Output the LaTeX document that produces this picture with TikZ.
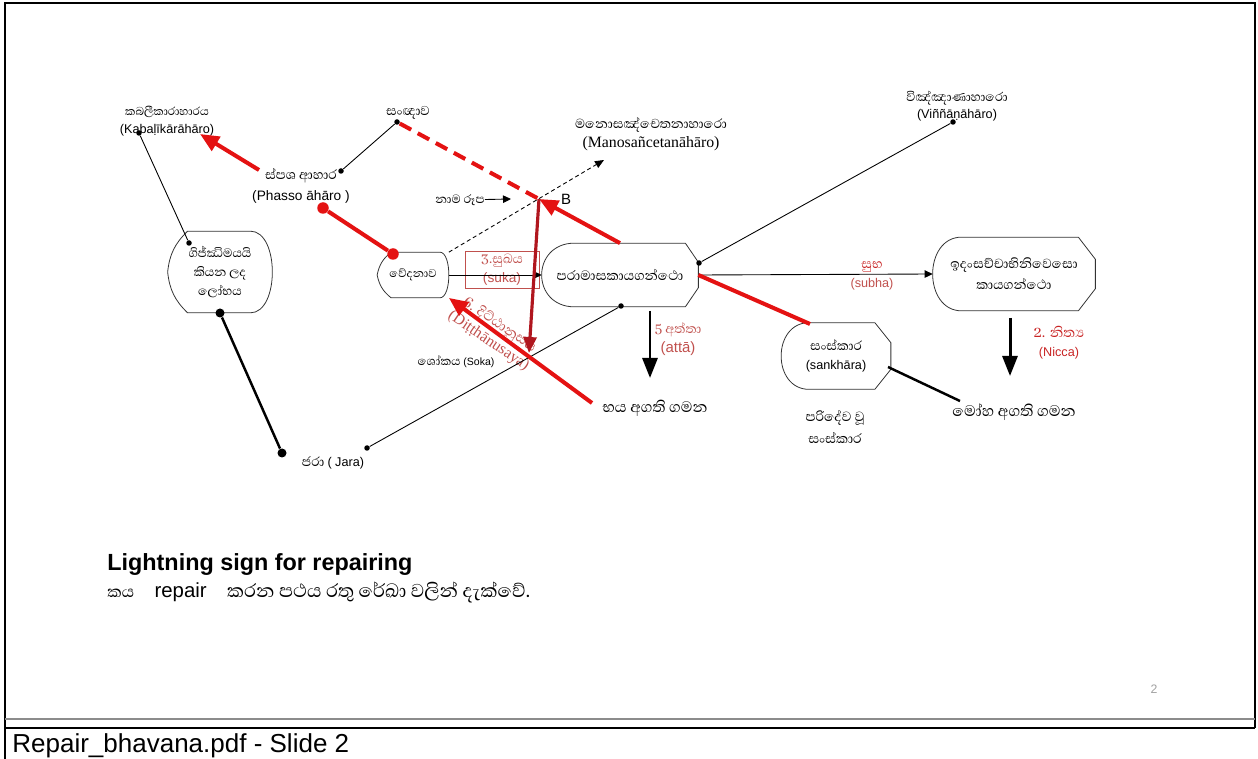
\documentclass[tikz,border=0pt]{standalone}
\usepackage{fontspec}
\setmainfont{Liberation Sans}
\newfontfamily\sinfont[Script=Sinhala]{Abhaya Libre}
\newfontfamily\tms{Liberation Serif}
\usepackage{tikz}
\usetikzlibrary{positioning,arrows.meta,calc}
\definecolor{repred}{RGB}{228,18,18}
\definecolor{darkrep}{RGB}{176,22,30}
\definecolor{notered}{RGB}{192,80,77}
\definecolor{deepred}{RGB}{200,36,36}
\definecolor{framegray}{RGB}{140,140,140}
\definecolor{pagegray}{RGB}{160,160,160}
\newcommand{\sinlbl}{\sinfont\fontsize{9.4}{11}\selectfont}
\newcommand{\sinsm}{\sinfont\fontsize{8.3}{10}\selectfont}
\newcommand{\latlbl}{\normalfont\fontsize{7.2}{9}\selectfont}
% left side round, right side bevelled
\newcommand{\outA}[3]{%
  \draw[outline] ($(#1.north west)+(#2,0)$) -- ($(#1.north east)+(-#3,0)$)
    -- ($(#1.north east)!0.3!(#1.south east)$) -- ($(#1.north east)!0.7!(#1.south east)$)
    -- ($(#1.south east)+(-#3,0)$) -- ($(#1.south west)+(#2,0)$)
    .. controls ($(#1.south west)+(-#2/3,0)$) and ($(#1.north west)+(-#2/3,0)$) .. ($(#1.north west)+(#2,0)$) -- cycle;}
% left side pointed, right side round
\newcommand{\outB}[3]{%
  \draw[outline] ($(#1.north west)+(#2,0)$) -- ($(#1.north east)+(-#3,0)$)
    .. controls ($(#1.north east)+(#3/3,0)$) and ($(#1.south east)+(#3/3,0)$) .. ($(#1.south east)+(-#3,0)$)
    -- ($(#1.south west)+(#2,0)$) to[bend left=20] (#1.west) to[bend left=20] ($(#1.north west)+(#2,0)$) -- cycle;}
\tikzset{
  outline/.style  ={draw=black!80, line width=0.45pt},
  thinline/.style ={draw=black, line width=0.5pt},
  boldline/.style ={draw=black, line width=1.4pt},
  repline/.style  ={draw=repred, line width=2.3pt},
  reparrow/.style ={repline, -{Triangle[length=3.8mm,width=3.2mm]}},
  darkarrow/.style={draw=darkrep, line width=1.8pt, -{Triangle[length=3.2mm,width=2.6mm]}},
  blkarrow/.style ={draw=black, line width=1.7pt, -{Triangle[length=4mm,width=3mm]}},
  thinarrow/.style={thinline, -{Triangle[length=1.6mm,width=1.5mm]}},
  dot/.style      ={circle, fill=black, inner sep=0pt, minimum size=1.1mm},
  bigdot/.style   ={circle, fill=black, inner sep=0pt, minimum size=1.8mm},
  reddot/.style   ={circle, fill=repred, inner sep=0pt, minimum size=2.3mm},
  shp/.style      ={align=center, inner sep=0pt, font=\sinlbl},
  lbl/.style      ={align=center, inner sep=0pt, font=\sinlbl},
}
\begin{document}
\begin{tikzpicture}[x=0.2mm,y=-0.2mm]
\useasboundingbox (0,0) rectangle (1258,759);
% slide frame
\draw[line width=0.9pt] (5,759) -- (5,3) -- (1255,3) -- (1255,728);
\draw[draw=framegray, line width=0.8pt] (5,719) -- (1255,719);
\draw[line width=1.6pt] (5,728) -- (1255,728);
\node[anchor=west, inner sep=0pt, font=\fontsize{14.8}{16}\selectfont] (cap) at (12,746) {Repair\_bhavana.pdf - Slide 2};
\node[font=\fontsize{7}{8}\selectfont, text=pagegray] (pgno) at (1154,689) {2};

% shapes
\node[shp, minimum width=20.8mm, minimum height=16.2mm, font=\sinfont\fontsize{8.9}{11}\selectfont] (lobha) at (220,272) {ගිජ්ඣිමයයි\\කියන ලද\\ලෝභය};
\node[shp, minimum width=14.2mm, minimum height=9mm, font=\sinsm] (vedana) at (413,275) {වේදනාව};
\node[shp, minimum width=31.2mm, minimum height=12.6mm, font=\sinfont\fontsize{9.8}{11}\selectfont] (paramasa) at (620,275) {පරාමාසකායගන්ථො};
\node[shp, minimum width=32.4mm, minimum height=14.6mm, font=\sinfont\fontsize{9.6}{12}\selectfont] (idam) at (1014,274) {ඉදංසච්චාභිනිවෙසො\\කායගන්ථො};
\node[shp, minimum width=21.8mm, minimum height=13.2mm] (sankhara) at (836,356) {සංස්කාර\\{\latlbl (sankhāra)}};
\outB{lobha}{20}{22}
\outB{vedana}{14}{9}
\outA{paramasa}{33}{13}
\outA{idam}{29}{17}
\outA{sankhara}{28}{16}

% labels
\node[lbl, font=\sinsm] (kabal) at (167,121) {කබලීකාරාහාරය\\{\latlbl (Kabaḷīkārāhāro)}};
\node[lbl] (sanna) at (408,113) {සංඥාව};
\node[lbl, font=\sinfont\fontsize{9.6}{11}\selectfont] (phassa) at (301,186) {ස්පශ ආහාර\\[1pt]{\normalfont\fontsize{7.8}{9}\selectfont (Phasso āhāro )}};
\node[lbl, font=\sinfont\fontsize{9.5}{11}\selectfont] (mano) at (651,134) {මනොසඤ්චෙතනාහාරො\\{\tms\fontsize{9}{10}\selectfont (Manosañcetanāhāro)}};
\node[lbl, font=\sinfont\fontsize{9.1}{10}\selectfont] (vinn) at (957,106) {විඤ්ඤාණාහාරො\\{\latlbl (Viññāṇāhāro)}};
\node[lbl, font=\sinfont\fontsize{8.7}{10}\selectfont] (nama) at (460,200) {නාම රූප};
\node[font=\fontsize{8.5}{10}\selectfont] (bmark) at (566,199) {B};
\node[lbl, draw=notered, line width=0.5pt, text=notered, minimum width=14.8mm, minimum height=7.4mm] (suka) at (502,270) {3.සුඛය\\{\normalfont\fontsize{7.8}{9}\selectfont (suka)}};
\node[lbl, text=notered, rotate=-34, font=\sinfont\fontsize{10}{11}\selectfont] (ditth) at (494,333) {6. දිට්ඨානුසය\\{\tms\fontsize{9}{10}\selectfont (Diṭṭhānusaya)}};
\node[lbl, font=\sinfont\fontsize{8.6}{10}\selectfont] (soka) at (456,362) {ශෝකය {\normalfont\fontsize{6}{7}\selectfont (Soka)}};
\node[lbl, font=\sinfont\fontsize{11}{12}\selectfont] (bhaya) at (655,408) {භය අගති ගමන};
\node[lbl, text=notered] (atta) at (678,339) {5 අත්තා\\{\normalfont\fontsize{8.5}{10}\selectfont (attā)}};
\node[lbl] (subha) at (872,276) {\textcolor{deepred}{සුභ}\\{\latlbl\color{notered}(subha)}};
\node[lbl, text=deepred, font=\sinfont\fontsize{10}{11}\selectfont] (nicca) at (1059,343) {2. නිත්^^^^200dය\\{\latlbl (Nicca)}};
\node[lbl, font=\sinfont\fontsize{11.1}{12}\selectfont] (moha) at (1014,412) {මෝහ අගති ගමන};
\node[lbl, font=\sinfont\fontsize{9.7}{12}\selectfont] (parid) at (835,427) {පරිදේව වූ\\සංස්කාර};
\node[lbl] (jara) at (333,463) {ජරා {\latlbl ( Jara)}};
\node[anchor=west, inner sep=0pt, font=\bfseries\fontsize{13.3}{15}\selectfont] (light) at (107,565) {Lightning sign for repairing};
\node[anchor=west, inner sep=0pt, font=\fontsize{11.6}{14}\selectfont] (note) at (107,592) {{\sinfont කය}\quad repair\quad {\sinfont\fontsize{13.6}{15}\selectfont කරන පථය රතු රේඛා වලින් දැක්වේ.}};

% dots and end points
\node[dot] (kdot) at (139,133) {};
\node[dot] (ldot1) at (189,243) {};
\node[bigdot] (ldot2) at (220,313) {};
\node[bigdot] (jdot1) at (282,453) {};
\node[dot] (sdot) at (397,122) {};
\node[dot] (pdot) at (341,171) {};
\node[dot] (jdot2) at (367,448) {};
\node[dot] (pbdot) at (621,306) {};
\node[dot] (prdot) at (699,263) {};
\node[dot] (vdot) at (953,122) {};
\node[reddot] (rdot1) at (323,208) {};
\node[reddot] (rdot2) at (393,254) {};
\coordinate (cross) at (539,199);
\coordinate (manoend) at (604,160);
\coordinate (namaend) at (511,199);
\coordinate (sokaend) at (529,353);
\coordinate (kabalend) at (200,134);
\coordinate (kabaltail) at (259,170);
\coordinate (dtail) at (592,403);
\coordinate (attatop) at (650,311);
\coordinate (attaend) at (650,378);
\coordinate (niccatop) at (1010,318);
\coordinate (niccaend) at (1010,376);
\coordinate (stl) at (810,324);
\coordinate (sright) at (888,367);
\coordinate (mohaend) at (960,401);

% connectors
\draw[thinline] (kdot) -- (ldot1);
\draw[boldline] (ldot2) -- (jdot1);
\draw[thinline] (pdot) -- (sdot);
\draw[thinline] (jdot2) -- (pbdot);
\draw[thinline] (prdot) -- (vdot);
\draw[thinline, dash pattern=on 0.8mm off 0.6mm, -{Triangle[length=1.8mm,width=1.5mm]}] (vedana.north east) -- (manoend);
\draw[thinarrow] (nama) -- (namaend);
\draw[thinarrow] (vedana.east) -- (paramasa.west);
\draw[thinarrow] (paramasa.east) -- (idam.west);
\draw[repline, dash pattern=on 2.6mm off 1.5mm] (sdot) -- (cross);
\draw[reparrow] (paramasa.north) -- (cross);
\draw[darkarrow] (cross) -- (sokaend);
\draw[reparrow] (kabaltail) -- (kabalend);
\draw[repline] (rdot1) -- (rdot2);
\draw[reparrow] (dtail) -- (vedana.south east);
\draw[repline] (paramasa.east) -- (stl);
\draw[blkarrow] (attatop) -- (attaend);
\draw[blkarrow] (niccatop) -- (niccaend);
\draw[boldline] (sright) -- (mohaend);
\end{tikzpicture}
\end{document}
